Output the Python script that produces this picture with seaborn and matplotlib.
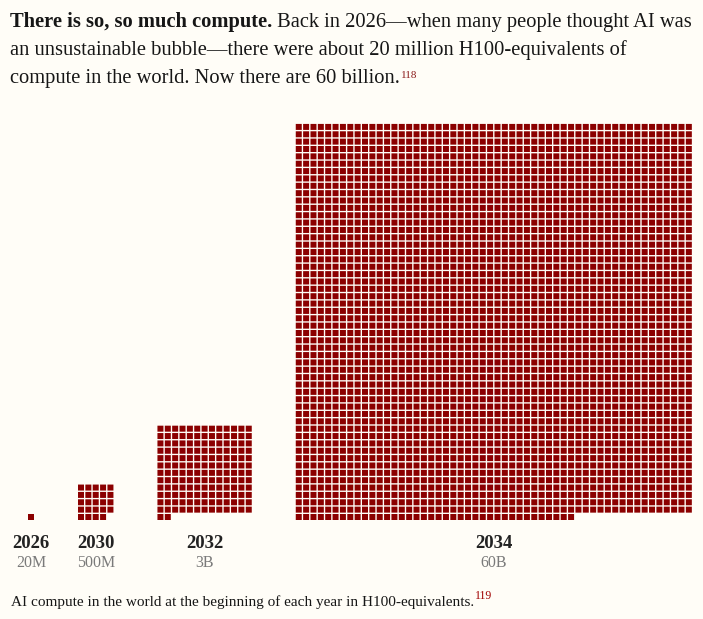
import math
import numpy as np
import pandas as pd
import matplotlib
matplotlib.use("Agg")
import matplotlib.pyplot as plt
import seaborn as sns

# ---- data ----
years = ["2026", "2030", "2032", "2034"]
value_labels = ["20M", "500M", "3B", "60B"]
compute_millions = [20, 480, 3160, 58000]   # H100-equivalents (millions), as drawn
unit_millions = 20                            # one square = 20M H100-equivalents

title_bold = "There is so, so much compute."
title_rest1 = " Back in 2026\u2014when many people thought AI was"
title_line2 = "an unsustainable bubble\u2014there were about 20 million H100-equivalents of"
title_line3 = "compute in the world. Now there are 60 billion."
title_note = "118"
caption = "AI compute in the world at the beginning of each year in H100-equivalents."
caption_note = "119"

# ---- style ----
BG = "#fffdf7"
RED = "#8b0000"
SERIF = "Liberation Serif"
W, H = 703, 619
sns.set_theme(style="white")
plt.rcParams["font.family"] = [SERIF, "DejaVu Serif"]

fig = plt.figure(figsize=(W / 100, H / 100), dpi=100, facecolor=BG)
ax = fig.add_axes([0, 0, 1, 1])
ax.set_facecolor(BG)

# ---- waffle squares ----
pitch = 7.36
sq = 6.0
base_y = 520
block_gap = 44
left = 28
rows = []
centers = []
for yr, v in zip(years, compute_millions):
    n = int(round(v / unit_millions))
    cols = math.ceil(math.sqrt(n))
    nrows = math.ceil(n / cols)
    for i in range(n):
        r, c = divmod(i, cols)
        rows.append({
            "year": yr,
            "x": left + c * pitch + sq / 2,
            "y": base_y - (nrows - 1 - r) * pitch - sq / 2,
        })
    width = cols * pitch - (pitch - sq)
    centers.append(left + width / 2)
    left = left + width + block_gap
df = pd.DataFrame(rows)

size_pt = sq * 72 / 100
sns.scatterplot(data=df, x="x", y="y", hue="year",
                palette={y: RED for y in years}, marker="s", s=size_pt ** 2,
                linewidth=0, ax=ax, legend=False, snap=False)
ax.set_xlim(0, W)
ax.set_ylim(H, 0)
ax.axis("off")

for cx, yr, lab in zip(centers, years, value_labels):
    ax.text(cx, 548, yr, ha="center", va="baseline", fontsize=13.5,
            fontweight="bold", color="#222222")
    ax.text(cx, 567, lab, ha="center", va="baseline", fontsize=11.5,
            color="#7a7a7a")

# ---- text with width fitting ----
renderer = fig.canvas.get_renderer()

def width_of(s, size, weight="normal"):
    t = ax.text(0, 0, s, fontsize=size, fontweight=weight)
    w = t.get_window_extent(renderer).width
    t.remove()
    return w

base = 15
w1 = width_of(title_bold, base, "bold") + width_of(title_rest1, base)
tsize = base * 685 / w1
TXT = "#161616"
wb = width_of(title_bold, tsize, "bold")
ax.text(10, 26.7, title_bold, fontsize=tsize, fontweight="bold",
        va="baseline", ha="left", color=TXT)
ax.text(10 + wb, 26.7, title_rest1, fontsize=tsize, va="baseline",
        ha="left", color=TXT)
ax.text(10, 55, title_line2, fontsize=tsize, va="baseline", ha="left", color=TXT)
ax.text(10, 83.3, title_line3, fontsize=tsize, va="baseline", ha="left", color=TXT)
w3 = width_of(title_line3, tsize)
ax.text(10 + w3 + 1, 78, title_note, fontsize=8, va="baseline", ha="left",
        color="#8b1a1a")

csize = 11 * 462 / width_of(caption, 11)
ax.text(11, 606, caption, fontsize=csize, va="baseline", ha="left", color=TXT)
wc = width_of(caption, csize)
ax.text(11 + wc + 1, 599, caption_note, fontsize=8.5, va="baseline",
        ha="left", color="#a00000")

fig.savefig("out.png", dpi=100, facecolor=BG)
